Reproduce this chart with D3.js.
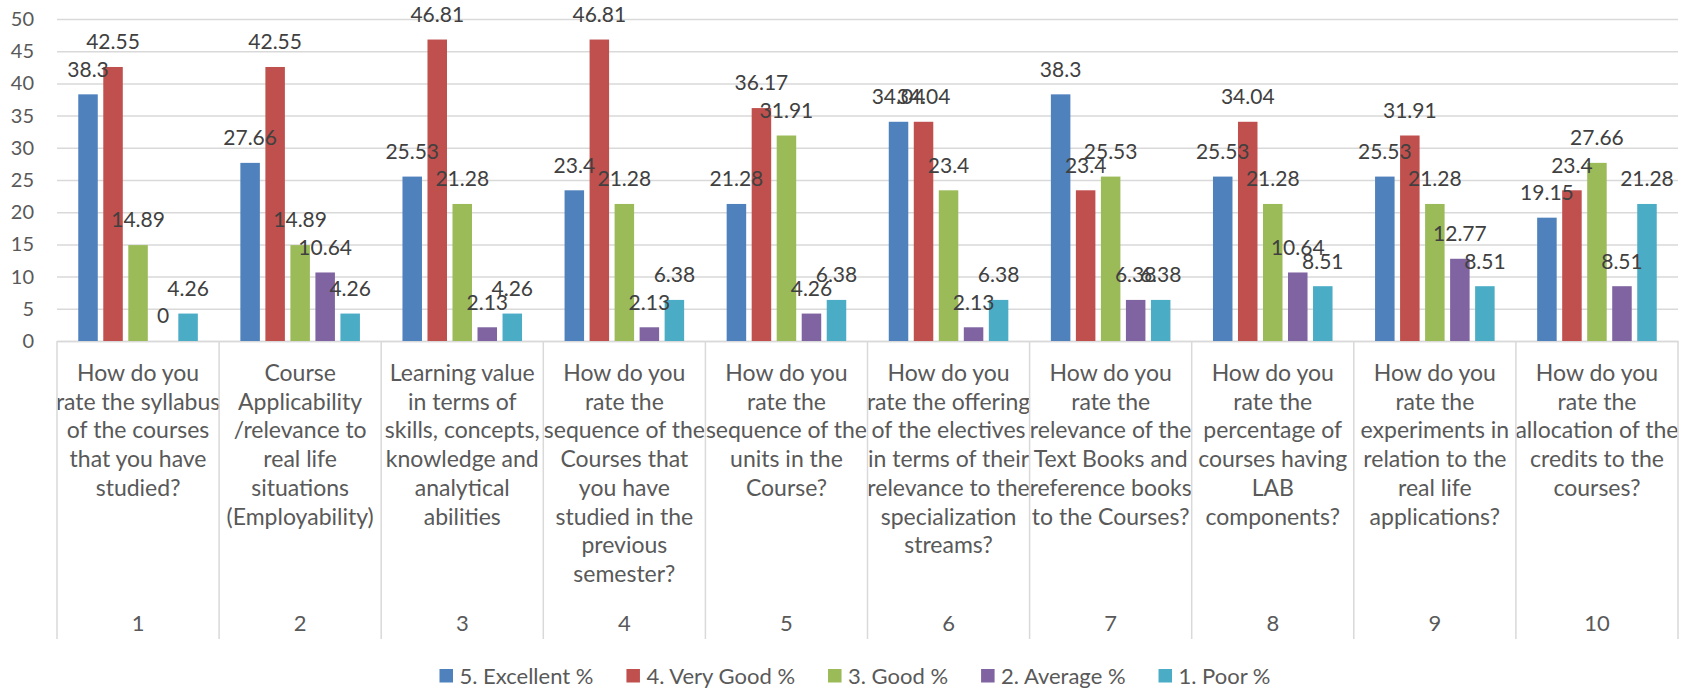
<!DOCTYPE html>
<html>
<head>
<meta charset="utf-8">
<script src="https://cdn.jsdelivr.net/npm/d3@7"></script>
<style>
  body { margin:0; background:#fff; }
  svg text { font-family: Lato, "Open Sans", sans-serif; }
</style>
</head>
<body>
<svg class="barGraph" width="1688" height="690"></svg>
<script>
// chart values
var categories = ["1","2","3","4","5","6","7","8","9","10"];
var questions = [
  ["How do you","rate the syllabus","of the courses","that you have","studied?"],
  ["Course","Applicability","/relevance to","real life","situations","(Employability)"],
  ["Learning value","in terms of","skills, concepts,","knowledge and","analytical","abilities"],
  ["How do you","rate the","sequence of the","Courses that","you have","studied in the","previous","semester?"],
  ["How do you","rate the","sequence of the","units in the","Course?"],
  ["How do you","rate the offering","of the electives","in terms of their","relevance to the","specialization","streams?"],
  ["How do you","rate the","relevance of the","Text Books and","reference books","to the Courses?"],
  ["How do you","rate the","percentage of","courses having","LAB","components?"],
  ["How do you","rate the","experiments in","relation to the","real life","applications?"],
  ["How do you","rate the","allocation of the","credits to the","courses?"]
];
var seriesNames = ["5. Excellent %","4. Very Good %","3. Good %","2. Average %","1. Poor %"];
var excellent = [38.3, 27.66, 25.53, 23.4, 21.28, 34.04, 38.3, 25.53, 25.53, 19.15];
var veryGood  = [42.55, 42.55, 46.81, 46.81, 36.17, 34.04, 23.4, 34.04, 31.91, 23.4];
var good      = [14.89, 14.89, 21.28, 21.28, 31.91, 23.4, 25.53, 21.28, 21.28, 27.66];
var average   = [0, 10.64, 2.13, 2.13, 4.26, 2.13, 6.38, 10.64, 12.77, 8.51];
var poor      = [4.26, 4.26, 4.26, 6.38, 6.38, 6.38, 6.38, 8.51, 8.51, 21.28];
var yTicks = [0,5,10,15,20,25,30,35,40,45,50];

var colors = ["#4F81BD","#C0504D","#9BBB59","#8064A2","#4BACC6"];

var margins = { top:19, left:57, right:10, bottom:349 };
var width = 1688, height = 690;
var plotBottom = height - margins.bottom;   // 341
var plotRight = width - margins.right;

var graph = d3.select('.barGraph');
var allSeries = [excellent, veryGood, good, average, poor];

// flatten into rows for the bars
var rows = [];
categories.forEach(function(c, i){
  seriesNames.forEach(function(s, j){
    rows.push({cat:c, series:s, idx:j, value:allSeries[j][i]});
  });
});

var yScale = d3.scaleLinear()
  .domain([0, 50])
  .range([plotBottom, margins.top]);

var x0 = d3.scaleBand()
  .domain(categories)
  .range([margins.left, plotRight]);

var x1 = d3.scaleBand()
  .domain(seriesNames)
  .range([0, x0.bandwidth()])
  .paddingInner(0.22)
  .paddingOuter(0.85);

// gridlines + y labels
var yAxis = d3.axisLeft(yScale)
  .tickValues(yTicks)
  .tickSize(-(plotRight - margins.left))
  .tickPadding(23);
graph.append('g')
  .attr('class','yAxis')
  .attr('transform','translate(' + margins.left + ',0)')
  .call(yAxis)
  .call(function(g){
    g.select('.domain').remove();
    g.selectAll('line').attr('stroke','#D9D9D9').attr('stroke-width',1.5);
    g.selectAll('text').attr('fill','#595959').style('font-size','20px');
  });

// x axis line with category text
var xAxis = d3.axisBottom(x0).tickSize(0).tickSizeOuter(0).tickFormat(function(){ return ''; });
var xg = graph.append('g')
  .attr('class','xAxis')
  .attr('transform','translate(0,' + plotBottom + ')')
  .call(xAxis);
xg.select('.domain').attr('stroke','#D9D9D9').attr('stroke-width',1.5);

// dividers between categories
var edges = categories.map(function(c){ return x0(c); }).concat([plotRight]);
xg.selectAll('.divider').data(edges).enter().append('line')
  .attr('class','divider')
  .attr('x1', function(d){ return d; })
  .attr('x2', function(d){ return d; })
  .attr('y1', 0).attr('y2', 298)
  .attr('stroke','#D9D9D9').attr('stroke-width',1.5);

xg.selectAll('.tick').each(function(d, i){
  var t = d3.select(this);
  var txt = t.append('text')
    .attr('fill','#595959')
    .attr('text-anchor','middle')
    .style('font-size','23px');
  txt.selectAll('tspan').data(questions[i]).enter().append('tspan')
    .attr('x', 0)
    .attr('y', function(l, k){ return 32 + k*28.7; })
    .attr('dy','0.35em')
    .text(function(l){ return l; });
  t.append('text')
    .attr('fill','#595959')
    .attr('text-anchor','middle')
    .attr('y', 282)
    .attr('dy','0.35em')
    .style('font-size','22px')
    .text(d);
});

// bars
graph.selectAll('.bar').data(rows).enter().append('rect')
  .attr('class','bar')
  .attr('x', function(d){ return x0(d.cat) + x1(d.series); })
  .attr('y', function(d){ return yScale(d.value); })
  .attr('width', x1.bandwidth())
  .attr('height', function(d){ return plotBottom - yScale(d.value); })
  .attr('fill', function(d){ return colors[d.idx]; });

// data labels
graph.selectAll('.valLabel').data(rows).enter().append('text')
  .attr('class','valLabel')
  .attr('x', function(d){ return x0(d.cat) + x1(d.series) + x1.bandwidth()/2; })
  .attr('y', function(d){ return yScale(d.value) - 25; })
  .attr('dy','0.35em')
  .attr('text-anchor','middle')
  .attr('fill','#404040')
  .style('font-size','21px')
  .text(function(d){ return d.value; });

// legend
var legend = graph.append('g').attr('class','legend');
var lx = 0;
seriesNames.forEach(function(s, j){
  var item = legend.append('g').attr('transform','translate(' + lx + ',0)');
  item.append('rect').attr('x',0).attr('y',-7).attr('width',13.5).attr('height',13.5).attr('fill',colors[j]);
  var t = item.append('text').attr('x',20).attr('dy','0.35em')
    .attr('fill','#595959').style('font-size','22px').text(s);
  lx += 20 + t.node().getComputedTextLength() + 33;
});
lx -= 33;
legend.attr('transform','translate(' + (855 - lx/2) + ',676)');
</script>
</body>
</html>
